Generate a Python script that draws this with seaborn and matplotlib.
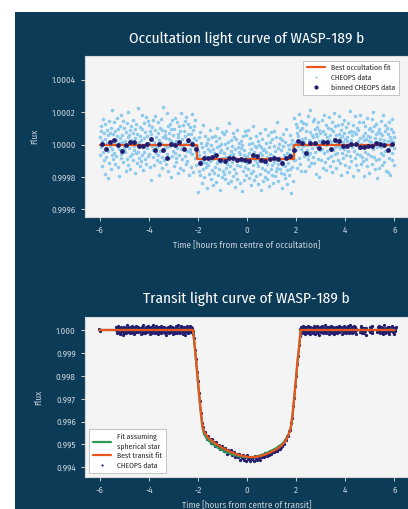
import numpy as np
import pandas as pd
import matplotlib
matplotlib.use("Agg")
import matplotlib.pyplot as plt
from matplotlib.patches import Rectangle
from matplotlib.lines import Line2D
from matplotlib.ticker import FormatStrFormatter, MultipleLocator
import seaborn as sns

sns.set_style("white")
plt.rcParams["font.family"] = ["Fira Sans Condensed", "DejaVu Sans"]
plt.rcParams["axes.unicode_minus"] = False

# ---------------- Occultation ----------------
occ_fit_time = [-6.0, -2.06, -2.06, 1.92, 1.92, 6.0]
occ_fit_ppm = [0, 0, -87, -87, 0, 0]
occ_contacts = (-2.06, 1.92)
occ_depth_ppm = -87

occ_bin_first, occ_bin_step = -5.92, 1.0 / 6.0
occ_bin_ppm = [6, -29, 19, 31, -4, -40, -4, 19, 19, -11, -11, 4, 37, -31, 4, -31,
               -80, 6, -4, 16, -27, 27, 5, -30, -114, -80, -85, -77, -62, -93,
               -103, -80, -83, -97, -87, -97, -103, -66, -68, -93, -101, -87,
               -80, -87, -114, -80, -72, -35, 22, 12, -50, 10, 10, -21, 16, 16,
               -25, 31, 20, -11, -11, 6, 6, -15, -15, -11, -11, 10, 6, 0, -31, 6]

# scatter of individual exposures around the fit, ppm
noise_ppm = [
    45, -62, 118, -15, 87, -134, 23, 160, -48, 6, -97, 71, -183, 34, 129, -21, -76, 92, 11, -205,
    58, -38, 143, -112, 19, 74, -9, -151, 101, -67, 212, -29, 66, -88, 3, 137, -54, -120, 84, 28,
    -73, 165, -4, 51, -139, 96, -26, 8, -192, 117, 39, -58, 181, -83, 13, 62, -107, 147, -35, -14,
    105, -44, 22, -166, 79, -2, 134, -91, 47, -128, 199, -19, 57, -71, 88, -148, 31, 114, -60, 16,
    -95, 72, 153, -31, -8, 98, -176, 41, -52, 126, 5, -115, 67, 224, -43, 17, -84, 109, -131, 53,
    27, -103, 186, -66, 94, -12, -158, 38, 131, -47, 76, -87, 2, 171, -119, 55, -24, 143, -69, 9,
    121, -56, -141, 83, 33, -217, 64, -7, 108, -79, 149, -36, 19, -125, 92, -1, 175, -50, 44, -93,
    -18, 137, -64, 71, -188, 26, 102, -41, -110, 159, 12, -76, 88, -145, 49, 230, -29, -98, 61, -3,
    85, -122, 42, 196, -57, -16, 117, -163, 35, 73, -86, 127, -11, -200, 95, 20, -68, 154, -39, 58,
    -132, 11, 99, -49, 162, -81, 24, -106, 139, -22, 66, -178, 45, 118, -63, -5, 86, -147, 193, -30,
    37, -91, 124, -14, -157, 81, 3, 146, -72, 52, -118, 173, -37, 10, -99, 128, 63, -186, 21, -46,
    107, -25, -136, 68, 14, 187, -59, 90, -170, 39, -8, 113, -82, 155, -44, 29, -124, 76, 8, -209,
    50, 132, -77, 25, -101, 164, -33, -6, 95, -150, 71, -21, 208, -66, 43, -113, 15, 139, -54, 82,
    -28, 97, -181, 59, 120, -40, 7, -93, 178, -15, 46, -129, 84, -70, 136, -2, -160, 61, 32, -87,
    142, -51, 18, 111, -144, 69, -27, 190, -102, -9, 78, -61, 125, 40, -196, 93, -18, 55, -116, 167,
    -74, 4, 150, -97, 36, -127, 89, 13, -55, 172, -34, 65, -149, 103, -8, -85, 219, -43, 20, 115,
    -139, 48, 80, -20, 157, -108, 30, -65, 134, -174, 57, 1, -90, 119, -37, 180, -123, 72, -11, 41,
    96, -153, 26, -45, 109, 63, -198, 87, -16, 140, -79, 22, 55, -135, 168, -53, 9, -100, 146, -26,
    15, 175, -62, 91, -117, 34, -4, 126, -89, 60, -165, 99, 17, -41, 203, -74, 44, -130, 79, -10,
    -106, 69, 138, -30, 5, -159, 112, -47, 83, -12, 158, -96, 38, -192, 74, 24, -57, 121, -140, 52,
    61, -19, -116, 185, -68, 42, 97, -126, 8, -35, 144, -84, 70, -3, -172, 106, 28, -61, 163, -99,
    -42, 123, 19, -152, 81, -23, 170, -108, 46, 7, -78, 135, -58, 226, -32, 64, -141, 3, 92, -67,
    130, -88, 51, -13, -184, 116, -39, 77, 152, -94, 21, -46, 104, -121, 13, 181, -73, 35, -156, 86,
    -24, 60, -104, 145, 29, -64, -211, 93, 16, 118, -52, 75, -137, 49, -7, 166, -95, 10, 127, -35,
    72, -147, 108, -6, 55, 191, -80, 23, -119, 88, -27, 147, -164, 37, 100, -44, -9, 133, -71, 18,
    -161, 39, 86, -58, 125, -31, 0, -92, 176, -66, 30, -133, 79, 214, -50, 4, -111, 58, -20, 148,
    44, -75, 161, -115, 12, 94, -45, 67, -180, 110, -13, 53, 137, -87, 25, -202, 90, -33, 74, 8,
    -97, 151, -28, 31, -142, 82, 185, -54, 7, -109, 64, -1, 124, -160, 48, -38, 102, 15, -83, 169,
    26, -130, 57, 98, -73, 14, -168, 141, -36, 85, -99, 36, 197, -60, -17, 113, -145, 62, 11, -52,
    119, -8, -94, 63, 179, -112, 40, -24, 90, -187, 54, 128, -49, 17, -81, 153, -26, 71, -124, 33,
    -64, 106, 25, -170, 47, 134, -41, 2, -138, 78, 210, -70, 31, -102, 87, -15, 59, -193, 120, -5,
    80, -37, 174, -84, 9, -128, 65, 100, -59, 20, -155, 92, -23, 141, -66, 43, 182, -118, 6, -76,
    -12, 140, -101, 53, -197, 28, 115, -43, 73, -90, 35, -10, 167, -134, 56, -57, 97, 24, -178, 104,
    49, -68, 13, 156, -120, 81, -29, 199, -77, -4, 112, -148, 41, 66, -93, 130, -18, -207, 76, 19,
    -88, 94, -145, 37, 71, -53, 148, -16, -126, 57, 9, 183, -62, 27, -107, 85, -40, 122, 1, -166,
    103, -33, 68, -171, 22, 138, -85, 46, -11, -190, 96, 31, -55, 159, -98, 14, 75, -128, 50, -21,
]

# ---------------- Transit ----------------
# best fit (gravity-darkened star), flux deficit in ppm
tr_fit_time = [-6.0, -2.20, -2.10, -2.00, -1.90, -1.82, -1.75, -1.6, -1.4, -1.2, -1.0,
               -0.8, -0.6, -0.4, -0.2, 0.0, 0.2, 0.4, 0.6, 0.8, 1.0, 1.2, 1.4, 1.55,
               1.68, 1.78, 1.85, 1.95, 2.05, 2.12, 2.18, 6.0]
tr_fit_ppm = [0, 0, 1050, 2250, 3400, 4150, 4450, 4680, 4870, 5020, 5150,
              5260, 5360, 5440, 5500, 5540, 5560, 5540, 5490, 5420, 5320, 5210, 5060, 4880,
              4600, 4250, 3700, 2600, 1400, 700, 0, 0]
# fit assuming a spherical star
sph_fit_time = [-6.0, -2.20, -2.10, -2.00, -1.90, -1.82, -1.75, -1.6, -1.4, -1.2, -1.0,
                -0.8, -0.6, -0.4, -0.2, 0.0, 0.2, 0.4, 0.6, 0.8, 1.0, 1.2, 1.4, 1.55,
                1.68, 1.78, 1.85, 1.95, 2.05, 2.12, 2.18, 6.0]
sph_fit_ppm = [0, 0, 1080, 2300, 3480, 4240, 4560, 4800, 4990, 5140, 5260,
               5360, 5440, 5500, 5540, 5560, 5555, 5520, 5460, 5370, 5270, 5150, 5000, 4830,
               4580, 4260, 3720, 2620, 1410, 700, 0, 0]

# in-transit exposures, one every 0.04 h from -2.20 h
tr_in_first, tr_in_step = -2.20, 0.04
tr_in_ppm = [30, 360, 890, 1250, 1840, 2220, 2770, 3120, 3630, 4050,
             4260, 4520, 4460, 4640, 4770, 4650, 4810, 4780, 4920, 4780,
             4940, 4910, 5050, 4900, 5030, 5110, 5030, 5210, 5130, 5050,
             5210, 5280, 5160, 5300, 5250, 5420, 5240, 5390, 5350, 5260,
             5480, 5420, 5340, 5560, 5490, 5420, 5550, 5400, 5660, 5520,
             5590, 5470, 5660, 5540, 5730, 5470, 5650, 5600, 5720, 5530,
             5650, 5570, 5710, 5490, 5620, 5660, 5500, 5580, 5660, 5450,
             5560, 5500, 5570, 5370, 5470, 5520, 5380, 5450, 5300, 5430,
             5330, 5230, 5340, 5270, 5180, 5290, 5190, 5090, 5190, 5110,
             5020, 5070, 4940, 4970, 4820, 4800, 4640, 4640, 4430, 4370,
             4050, 3840, 3340, 2970, 2430, 2030, 1480, 1150, 670, 270]

# out-of-transit observing windows: (start h, end h, exposures)
tr_out_windows = [(-6.01, -5.99, 2), (-5.35, -2.22, 190), (2.17, 4.45, 140),
                  (4.60, 4.85, 16), (4.98, 5.10, 8), (5.28, 5.80, 32), (5.88, 6.05, 10)]

# ---------------- styling ----------------
BG = "#0c3b57"
FACE = "#f4f4f4"
TICK = "#c6d0d8"
LIGHT_BLUE = "#8ccbee"
NAVY = "#221d6e"
ORANGE = "#e8561c"
GREEN = "#2f9a58"

# ---------------- derived tables ----------------
occ_time = np.linspace(-6.0, 6.0, len(noise_ppm))
in_occ = (occ_time > occ_contacts[0]) & (occ_time < occ_contacts[1])
occ_raw = pd.DataFrame({
    "time": occ_time,
    "flux": 1.0 + (np.where(in_occ, occ_depth_ppm, 0) + np.array(noise_ppm)) * 1e-6,
})
occ_bin = pd.DataFrame({
    "time": occ_bin_first + occ_bin_step * np.arange(len(occ_bin_ppm)),
    "flux": 1.0 + np.array(occ_bin_ppm) * 1e-6,
})
occ_fit = pd.DataFrame({"time": occ_fit_time, "flux": 1.0 + np.array(occ_fit_ppm) * 1e-6})

out_t, out_f = [], []
pos = 0
for start, end, n in tr_out_windows:
    out_t.extend(np.linspace(start, end, n))
    out_f.extend(1.0 + np.array(noise_ppm[pos:pos + n]) * 1e-6)
    pos += n
in_t = tr_in_first + tr_in_step * np.arange(len(tr_in_ppm))
in_f = 1.0 - np.array(tr_in_ppm) * 1e-6
tr_data = pd.DataFrame({"time": np.concatenate([out_t, in_t]),
                        "flux": np.concatenate([out_f, in_f])})
tr_fit = pd.DataFrame({"time": tr_fit_time, "flux": 1.0 - np.array(tr_fit_ppm) * 1e-6})
sph_fit = pd.DataFrame({"time": sph_fit_time, "flux": 1.0 - np.array(sph_fit_ppm) * 1e-6})

# ---------------- figure ----------------
W, H = 408, 509
fig = plt.figure(figsize=(W / 100, H / 100), dpi=100, facecolor="white")
fig.patches.append(Rectangle((15 / W, 0), 1 - 15 / W, 1 - 12 / H,
                             transform=fig.transFigure, facecolor=BG,
                             edgecolor="none", zorder=-10))

ax1 = fig.add_axes([85 / W, 1 - 217 / H, 1 - 85 / W, 161 / H])
ax2 = fig.add_axes([85 / W, 1 - 477 / H, 1 - 85 / W, 160 / H])


def style_axes(ax, title, xlabel, title_pad):
    ax.set_facecolor(FACE)
    for sp in ax.spines.values():
        sp.set_color("#d8d8d8")
        sp.set_linewidth(0.8)
    ax.set_xlim(-6.6, 6.55)
    ax.xaxis.set_major_locator(MultipleLocator(2))
    ax.tick_params(axis="both", colors=TICK, labelcolor=TICK, labelsize=6.5,
                   length=3, width=0.7, direction="out", bottom=True, left=True)
    ax.set_title(title, color="white", fontsize=11, pad=title_pad)
    ax.set_xlabel(xlabel, color=TICK, fontsize=6.5, labelpad=4)
    ax.set_ylabel("Flux", color=TICK, fontsize=6.5, labelpad=9)


# top: occultation
sns.scatterplot(data=occ_raw, x="time", y="flux", ax=ax1, s=6.5, color=LIGHT_BLUE,
                linewidth=0, zorder=2, legend=False)
sns.lineplot(data=occ_fit, x="time", y="flux", ax=ax1, color=ORANGE, lw=1.6,
             sort=False, estimator=None, zorder=3, legend=False)
sns.scatterplot(data=occ_bin, x="time", y="flux", ax=ax1, s=12, color=NAVY,
                linewidth=0, zorder=4, legend=False)
ax1.set_ylim(0.999552, 1.000548)
ax1.set_yticks([0.9996, 0.9998, 1.0, 1.0002, 1.0004])
ax1.yaxis.set_major_formatter(FormatStrFormatter("%.4f"))
style_axes(ax1, "Occultation light curve of WASP-189 b",
           "Time [hours from centre of occultation]", 9)
h1 = [Line2D([], [], color=ORANGE, lw=1.6),
      Line2D([], [], ls="none", marker="o", ms=1.6, color=LIGHT_BLUE, mec="none"),
      Line2D([], [], ls="none", marker="o", ms=3, color=NAVY, mec="none")]
leg1 = ax1.legend(h1, ["Best occultation fit", "CHEOPS data", "binned CHEOPS data"],
                  loc="upper right", bbox_to_anchor=(0.985, 0.995), fontsize=5.5,
                  frameon=True, fancybox=False, framealpha=1, edgecolor="#bbbbbb",
                  handlelength=2.4, borderpad=0.5, labelspacing=0.35)
leg1.get_frame().set_linewidth(0.6)

# bottom: transit
sns.scatterplot(data=tr_data, x="time", y="flux", ax=ax2, s=5.5, color=NAVY,
                linewidth=0, zorder=2, legend=False)
sns.lineplot(data=sph_fit, x="time", y="flux", ax=ax2, color=GREEN, lw=1.6,
             sort=False, estimator=None, zorder=3, legend=False)
sns.lineplot(data=tr_fit, x="time", y="flux", ax=ax2, color=ORANGE, lw=1.6,
             sort=False, estimator=None, zorder=4, legend=False)
ax2.set_ylim(0.993576, 1.000568)
ax2.set_yticks([0.994, 0.995, 0.996, 0.997, 0.998, 0.999, 1.0])
ax2.yaxis.set_major_formatter(FormatStrFormatter("%.3f"))
style_axes(ax2, "Transit light curve of WASP-189 b",
           "Time [hours from centre of transit]", 10)
h2 = [Line2D([], [], color=GREEN, lw=1.6),
      Line2D([], [], color=ORANGE, lw=1.6),
      Line2D([], [], ls="none", marker="o", ms=1.6, color=NAVY, mec="none")]
leg2 = ax2.legend(h2, ["Fit assuming\nspherical star", "Best transit fit", "CHEOPS data"],
                  loc="lower left", bbox_to_anchor=(0.0, 0.0), fontsize=5.5,
                  frameon=True, fancybox=False, framealpha=1, edgecolor="#bbbbbb",
                  handlelength=2.4, borderpad=0.5, labelspacing=0.35)
leg2.get_frame().set_linewidth(0.6)

fig.savefig("out.png", dpi=100, facecolor=fig.get_facecolor())
